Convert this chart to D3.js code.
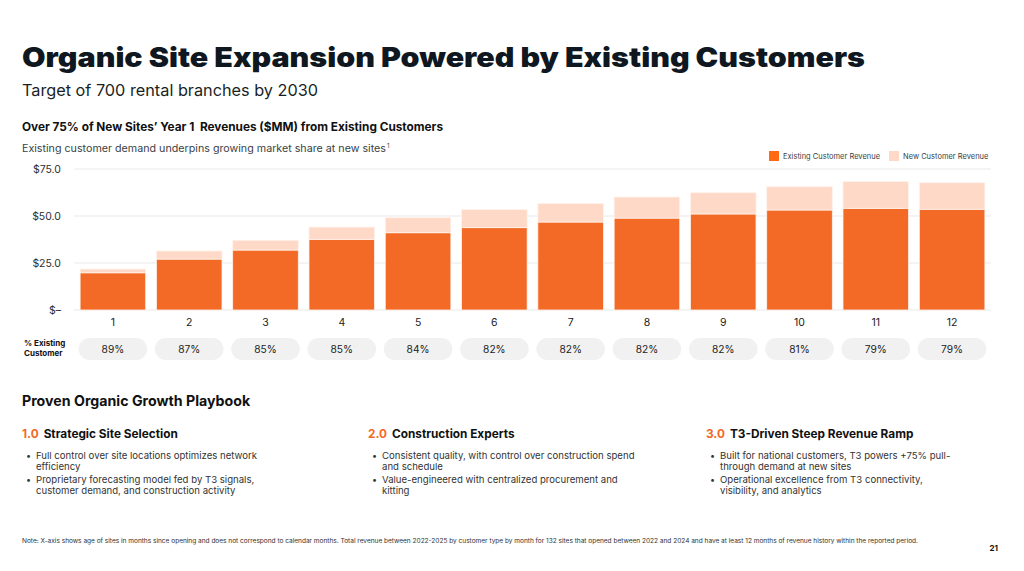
<!DOCTYPE html>
<html>
<head>
<meta charset="utf-8">
<title>Organic Site Expansion</title>
<script src="https://cdn.jsdelivr.net/npm/d3@7"></script>
<style>
  body { margin: 0; background: #fff; }
  svg { display: block; font-family: Inter, "Noto Sans", sans-serif; }
</style>
</head>
<body>
<svg id="page" width="1024" height="571"></svg>
<script>
// data
var months = ["1","2","3","4","5","6","7","8","9","10","11","12"];
var existingRev = [19.8, 27.1, 31.9, 37.6, 41.1, 43.8, 46.8, 48.9, 51.1, 53.2, 54.1, 53.6];
var newRev = [2.0, 4.3, 5.2, 6.5, 8.0, 9.6, 9.9, 11.2, 11.3, 12.4, 14.2, 14.1];
var pctExisting = ["89%","87%","85%","85%","84%","82%","82%","82%","82%","81%","79%","79%"];
var yTicks = [0, 25, 50, 75];
var seriesNames = ["Existing Customer Revenue", "New Customer Revenue"];
var colors = ["#f26a26", "#fed9c7"];

var svg = d3.select("#page");

// headings
svg.append("text").attr("x", 22).attr("y", 67)
  .attr("font-size", 27).attr("font-weight", 900).attr("fill", "#0f1720")
  .attr("textLength", 843).attr("lengthAdjust", "spacingAndGlyphs")
  .text("Organic Site Expansion Powered by Existing Customers");
svg.append("text").attr("x", 22).attr("y", 96)
  .attr("font-size", 16).attr("fill", "#1a1f26")
  .attr("textLength", 296).attr("lengthAdjust", "spacingAndGlyphs")
  .text("Target of 700 rental branches by 2030");

svg.append("text").attr("x", 22).attr("y", 131)
  .attr("font-size", 11.8).attr("font-weight", 700).attr("fill", "#111")
  .attr("textLength", 421).attr("lengthAdjust", "spacingAndGlyphs")
  .text("Over 75% of New Sites\u2019 Year 1\u00a0 Revenues ($MM) from Existing Customers");
var sub = svg.append("text").attr("x", 22).attr("y", 152)
  .attr("font-size", 10).attr("fill", "#3a3f45");
sub.append("tspan").attr("textLength", 364).attr("lengthAdjust", "spacingAndGlyphs")
  .text("Existing customer demand underpins growing market share at new sites");
sub.append("tspan").attr("font-size", 6).attr("dy", -4).attr("dx", 1).text("1");

// chart
var x = d3.scaleBand().domain(months).range([74, 991]).paddingInner(0.14).paddingOuter(0.08);
var y = d3.scaleLinear().domain([0, 75]).range([310, 169]);

var yAxis = d3.axisLeft(y).tickValues(yTicks).tickSize(0).tickPadding(0)
  .tickFormat(function(d) { return d === 0 ? "$\u2013" : "$" + d.toFixed(1); });
var gy = svg.append("g").attr("transform", "translate(61,0)").call(yAxis);
gy.select(".domain").remove();
gy.selectAll("text").attr("font-size", 10.5).attr("fill", "#2b2f33").attr("font-family", "Inter, sans-serif");

svg.append("g").selectAll("line").data(yTicks).enter().append("line")
  .attr("x1", 74).attr("x2", 991)
  .attr("y1", function(d) { return y(d); }).attr("y2", function(d) { return y(d); })
  .attr("stroke", "#e9e9e9").attr("stroke-width", 1);

var stackData = months.map(function(m, i) { return { m: m, existing: existingRev[i], newc: newRev[i] }; });
var stack = d3.stack().keys(["existing", "newc"])(stackData);

svg.append("g").selectAll("g").data(stack).enter().append("g")
  .attr("fill", function(d, i) { return colors[i]; })
  .selectAll("rect").data(function(d) { return d; }).enter().append("rect")
  .attr("x", function(d) { return x(d.data.m); })
  .attr("width", x.bandwidth())
  .attr("y", function(d) { return y(d[1]); })
  .attr("height", function(d) { return y(d[0]) - y(d[1]); })
  .attr("stroke", "#fff3ec").attr("stroke-width", 0.8);

var xAxis = d3.axisBottom(x).tickSize(0).tickPadding(0);
var gx = svg.append("g").attr("transform", "translate(0,326)").call(xAxis);
gx.select(".domain").remove();
gx.selectAll("text").attr("dy", 0).attr("font-size", 10.5).attr("fill", "#222").attr("font-family", "Inter, sans-serif");

// % existing pills
svg.append("text").attr("x", 24).attr("y", 346).attr("font-size", 8).attr("font-weight", 700).attr("fill", "#111").text("% Existing");
svg.append("text").attr("x", 24).attr("y", 356).attr("font-size", 8).attr("font-weight", 700).attr("fill", "#111").text("Customer");

var pills = svg.append("g").selectAll("g").data(pctExisting).enter().append("g");
pills.append("rect")
  .attr("x", function(d, i) { return x(months[i]) - 1.5; })
  .attr("width", x.bandwidth() + 3)
  .attr("y", 338).attr("height", 22).attr("rx", 11)
  .attr("fill", "#f1f1f1");
pills.append("text")
  .attr("x", function(d, i) { return x(months[i]) + x.bandwidth() / 2; })
  .attr("y", 353).attr("text-anchor", "middle")
  .attr("font-size", 10.2).attr("fill", "#222")
  .text(function(d) { return d; });

// legend
var legend = svg.append("g").selectAll("g").data(seriesNames).enter().append("g")
  .attr("transform", function(d, i) { return "translate(" + (769 + i * 120) + ",151)"; });
legend.append("rect").attr("width", 10).attr("height", 10)
  .attr("fill", function(d, i) { return i === 0 ? "#ff6a13" : colors[1]; });
legend.append("text").attr("x", 14).attr("y", 8).attr("font-size", 7.5).attr("fill", "#3a3f45")
  .text(function(d) { return d; });

// playbook
svg.append("text").attr("x", 22).attr("y", 406)
  .attr("font-size", 14.2).attr("font-weight", 700).attr("fill", "#111")
  .text("Proven Organic Growth Playbook");

var steps = ["1.0", "2.0", "3.0"];
var stepTitles = ["Strategic Site Selection", "Construction Experts", "T3-Driven Steep Revenue Ramp"];
var stepBullets = [
  [["Full control over site locations optimizes network", "efficiency"],
   ["Proprietary forecasting model fed by T3 signals,", "customer demand, and construction activity"]],
  [["Consistent quality, with control over construction spend", "and schedule"],
   ["Value-engineered with centralized procurement and", "kitting"]],
  [["Built for national customers, T3 powers +75% pull-", "through demand at new sites"],
   ["Operational excellence from T3 connectivity,", "visibility, and analytics"]]
];
var colX = [22, 368, 706];

steps.forEach(function(s, i) {
  var g = svg.append("g").attr("transform", "translate(" + colX[i] + ",0)");
  var h = g.append("text").attr("y", 438).attr("font-size", 11.8).attr("font-weight", 700);
  h.append("tspan").attr("fill", "#f26a26").text(s);
  h.append("tspan").attr("fill", "#111").attr("dx", 5).text(stepTitles[i]);
  var ly = 458.5;
  stepBullets[i].forEach(function(b) {
    g.append("text").attr("x", 4).attr("y", ly).attr("font-size", 9).attr("fill", "#333").text("\u2022");
    b.forEach(function(line, k) {
      g.append("text").attr("x", 14).attr("y", ly + k * 11)
        .attr("font-size", 9.6).attr("fill", "#333").text(line);
    });
    ly += 24.5;
  });
});

// footnote
svg.append("text").attr("x", 22).attr("y", 543).attr("font-size", 5.8).attr("fill", "#333")
  .attr("textLength", 896).attr("lengthAdjust", "spacingAndGlyphs")
  .text("Note: X-axis shows age of sites in months since opening and does not correspond to calendar months. Total revenue between 2022-2025 by customer type by month for 132 sites that opened between 2022 and 2024 and have at least 12 months of revenue history within the reported period.");
svg.append("text").attr("x", 998).attr("y", 551).attr("text-anchor", "end")
  .attr("font-size", 8).attr("font-weight", 700).attr("fill", "#111").text("21");
</script>
</body>
</html>
